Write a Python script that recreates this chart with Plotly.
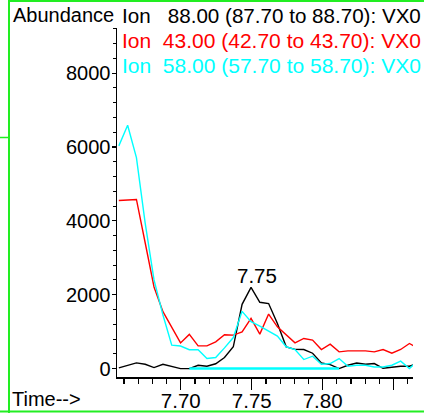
import plotly.graph_objects as go

# ---------------- data ----------------
times = [7.6563, 7.6625, 7.6687, 7.6749, 7.6811, 7.6874, 7.6936, 7.6998, 7.7060,
         7.7122, 7.7184, 7.7246, 7.7308, 7.7370, 7.7432, 7.7495, 7.7557, 7.7619,
         7.7681, 7.7743, 7.7805, 7.7867, 7.7929, 7.7991, 7.8053, 7.8116, 7.8178,
         7.8240, 7.8302, 7.8364, 7.8426, 7.8488, 7.8550, 7.8612, 7.8674]

ion88 = [20, 90, 155, 117, 27, 117, 63, 0, 0, 90, 63, 130, 300, 590, 1740, 2200,
         1795, 1760, 1220, 588, 520, 517, 416, 152, 109, 0, 90, 152, 117, 136, 8,
         44, 63, 63, 150]

ion43 = [4550, 4575, 4580, 3400, 2210, 1540, 1100, 696, 925, 615, 615, 724, 915,
         905, 995, 1360, 933, 1477, 1131, 906, 696, 816, 770, 517, 661, 452, 479,
         479, 479, 452, 517, 416, 517, 680, 544]

ion58 = [6030, 6590, 5712, 3930, 2400, 1450, 634, 610, 510, 510, 272, 300, 560,
         840, 1550, 1270, 1150, 1020, 880, 590, 517, 245, 335, 117, 136, 272, 63,
         90, 90, 44, 44, 90, 200, 0, 225]

baseline_times = [7.7060, 7.8116]
baseline_values = [0, 0]

peak_time = 7.7495
peak_value = 2200
peak_label = "7.75"

legend_texts = [
    "Ion\u00a0\u00a0 88.00 (87.70 to 88.70): VX0",
    "Ion\u00a0 43.00 (42.70 to 43.70): VX0",
    "Ion\u00a0 58.00 (57.70 to 58.70): VX0",
]
x_tickvals = [7.70, 7.75, 7.80, 7.85]
x_ticktext = ["7.70", "7.75", "7.80", ""]
y_tickvals = [0, 2000, 4000, 6000, 8000]
y_ticktext = ["0", "2000", "4000", "6000", "8000"]

# ---------------- layout geometry ----------------
W, H = 424, 413
L, R, T, B = 117, 11, 28, 36
PW = W - L - R
PH = H - T - B
FONT = "Liberation Sans, Arial, sans-serif"
BLACK, RED, CYAN, GREEN = "#000000", "#ff0000", "#00ffff", "#22ee22"


def px2x(px):
    return (px - L) / PW


def py2y(py):
    return (H - B - py) / PH


fig = go.Figure()
fig.add_trace(go.Scatter(x=times, y=ion88, mode="lines",
                         line=dict(color=BLACK, width=1.4)))
fig.add_trace(go.Scatter(x=times, y=ion43, mode="lines",
                         line=dict(color=RED, width=1.4)))
fig.add_trace(go.Scatter(x=times, y=ion58, mode="lines",
                         line=dict(color=CYAN, width=1.4)))
fig.add_trace(go.Scatter(x=baseline_times, y=baseline_values, mode="lines",
                         line=dict(color=CYAN, width=2.5)))

annotations = [
    dict(x=px2x(11), y=py2y(15), xref="paper", yref="paper", text="Abundance",
         showarrow=False, xanchor="left", yanchor="middle",
         font=dict(family=FONT, size=20, color=BLACK)),
    dict(x=px2x(10), y=py2y(399), xref="paper", yref="paper", text="Time-->",
         showarrow=False, xanchor="left", yanchor="middle",
         font=dict(family=FONT, size=20, color=BLACK)),
    dict(x=peak_time, y=peak_value, xref="x", yref="y", text=peak_label,
         showarrow=False, xanchor="center", yanchor="bottom", xshift=6, yshift=-2,
         font=dict(family=FONT, size=20.5, color=BLACK)),
]
for txt, col, yc, fs in zip(legend_texts, [BLACK, RED, CYAN], [15, 40, 65],
                            [20.6, 21.0, 21.0]):
    annotations.append(dict(x=px2x(120), y=py2y(yc), xref="paper", yref="paper",
                            text=txt, showarrow=False, xanchor="left",
                            yanchor="middle",
                            font=dict(family=FONT, size=fs, color=col)))

shapes = [
    dict(type="line", xref="paper", yref="paper", x0=px2x(9), x1=px2x(9),
         y0=py2y(0), y1=py2y(413), line=dict(color=GREEN, width=2)),
    dict(type="line", xref="paper", yref="paper", x0=px2x(9), x1=px2x(424),
         y0=py2y(1), y1=py2y(1), line=dict(color=GREEN, width=2)),
    dict(type="line", xref="paper", yref="paper", x0=px2x(0), x1=px2x(424),
         y0=py2y(411.5), y1=py2y(411.5), line=dict(color=GREEN, width=2)),
    dict(type="line", xref="paper", yref="paper", x0=px2x(0), x1=px2x(9),
         y0=py2y(137.5), y1=py2y(137.5), line=dict(color=GREEN, width=1.5)),
]

fig.update_layout(
    width=W, height=H,
    margin=dict(l=L, r=R, t=T, b=B, pad=0, autoexpand=False),
    paper_bgcolor="white", plot_bgcolor="white",
    showlegend=False,
    annotations=annotations,
    shapes=shapes,
    font=dict(family=FONT, size=20, color=BLACK),
    xaxis=dict(range=[7.655, 7.8637], showgrid=False, zeroline=False,
               automargin=False,
               showline=True, linecolor=BLACK, linewidth=1.5,
               tickmode="array", tickvals=x_tickvals, ticktext=x_ticktext,
               ticks="outside", ticklen=11, tickwidth=1.2, tickcolor=BLACK,
               ticklabelstandoff=-6,
               minor=dict(ticks="outside", ticklen=5, tickwidth=1.2,
                          tickcolor=BLACK, dtick=0.01, tick0=7.70),
               tickfont=dict(family=FONT, size=20.5, color=BLACK)),
    yaxis=dict(range=[-228, 9222], showgrid=False, zeroline=False,
               automargin=False,
               showline=True, linecolor=BLACK, linewidth=1.5,
               tickmode="array", tickvals=y_tickvals, ticktext=y_ticktext,
               ticks="outside", ticklen=4, tickwidth=1.2, tickcolor=BLACK,
               ticklabelstandoff=-3,
               minor=dict(ticks="outside", ticklen=3, tickwidth=1,
                          tickcolor=BLACK, dtick=400, tick0=0),
               tickfont=dict(family=FONT, size=20, color=BLACK)),
)

fig.write_html("out.html",
               config={"displayModeBar": False, "staticPlot": True},
               post_script="document.body.style.margin='0px';"
                           "document.body.style.overflow='hidden';")
